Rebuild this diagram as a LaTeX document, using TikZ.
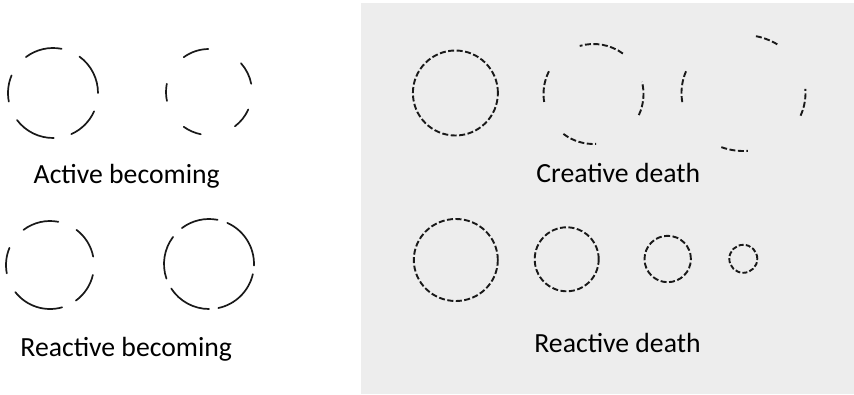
\documentclass[tikz,border=0pt]{standalone}
\usepackage{fontspec}
\setmainfont{Carlito}
\definecolor{panelgray}{RGB}{237,237,237}
\begin{document}
\begin{tikzpicture}[x=1pt,y=1pt,
  becom/.style={line width=1.7pt,line cap=round,black!90},
  dth/.style={line width=1.9pt,black!90,dash pattern=on 6pt off 2.5pt},
  lbl/.style={anchor=base,inner sep=0pt,font=\fontsize{27.7}{30}\selectfont}]
\useasboundingbox (0,0) rectangle (854,394);
\fill[white] (0,0) rectangle (854,394);
\fill[panelgray] (361,0) rectangle (854,391);
% Active becoming
\foreach \a/\b in {79/127,0/54,157/191,217/271,294/336}
  \draw[becom] ([shift={(\a:45)}]53,301) arc[start angle=\a,end angle=\b,radius=45];
\foreach \a/\b in {91/126,11/42,169/192,234/259,307/336}
  \draw[becom] ([shift={(\a:43)}]209,302) arc[start angle=\a,end angle=\b,radius=43];
% Reactive becoming
\foreach \a/\b in {79/127,11/53,306/347,157/191,218/286}
  \draw[becom] ([shift={(\a:44)}]50,129) arc[start angle=\a,end angle=\b,radius=44];
\foreach \a/\b in {79/127,-2/66,282/347,213/270,143/199}
  \draw[becom] ([shift={(\a:45)}]209,130) arc[start angle=\a,end angle=\b,radius=45];
% Creative death
\draw[dth] (455.4,301) circle[radius=42.5];
\foreach \a/\b in {54/106,153/191,-25/14,233/273}
  \draw[dth] ([shift={(\a:50)}]593.5,300) arc[start angle=\a,end angle=\b,radius=50];
\foreach \a/\b in {57/80,158/190,-23/4,249/274}
  \draw[dth] ([shift={(\a:62 and 58)}]743.5,301) arc[start angle=\a,end angle=\b,x radius=62,y radius=58];
% Reactive death
\draw[dth] (455.8,134) ellipse[x radius=42,y radius=41];
\draw[dth] (566.7,134.7) circle[radius=32];
\draw[dth] (667.7,135) circle[radius=23.2];
\draw[dth,dash pattern=on 5pt off 2.2pt] (743.3,135.2) circle[radius=14];
% Labels
\node[lbl] (ab) at (126.7,210.7) {Active becoming};
\node[lbl] (rb) at (126.2,37.3) {Reactive becoming};
\node[lbl] (cd) at (618.3,211.7) {Creative death};
\node[lbl] (rd) at (617.5,41.7) {Reactive death};
\end{tikzpicture}
\end{document}
